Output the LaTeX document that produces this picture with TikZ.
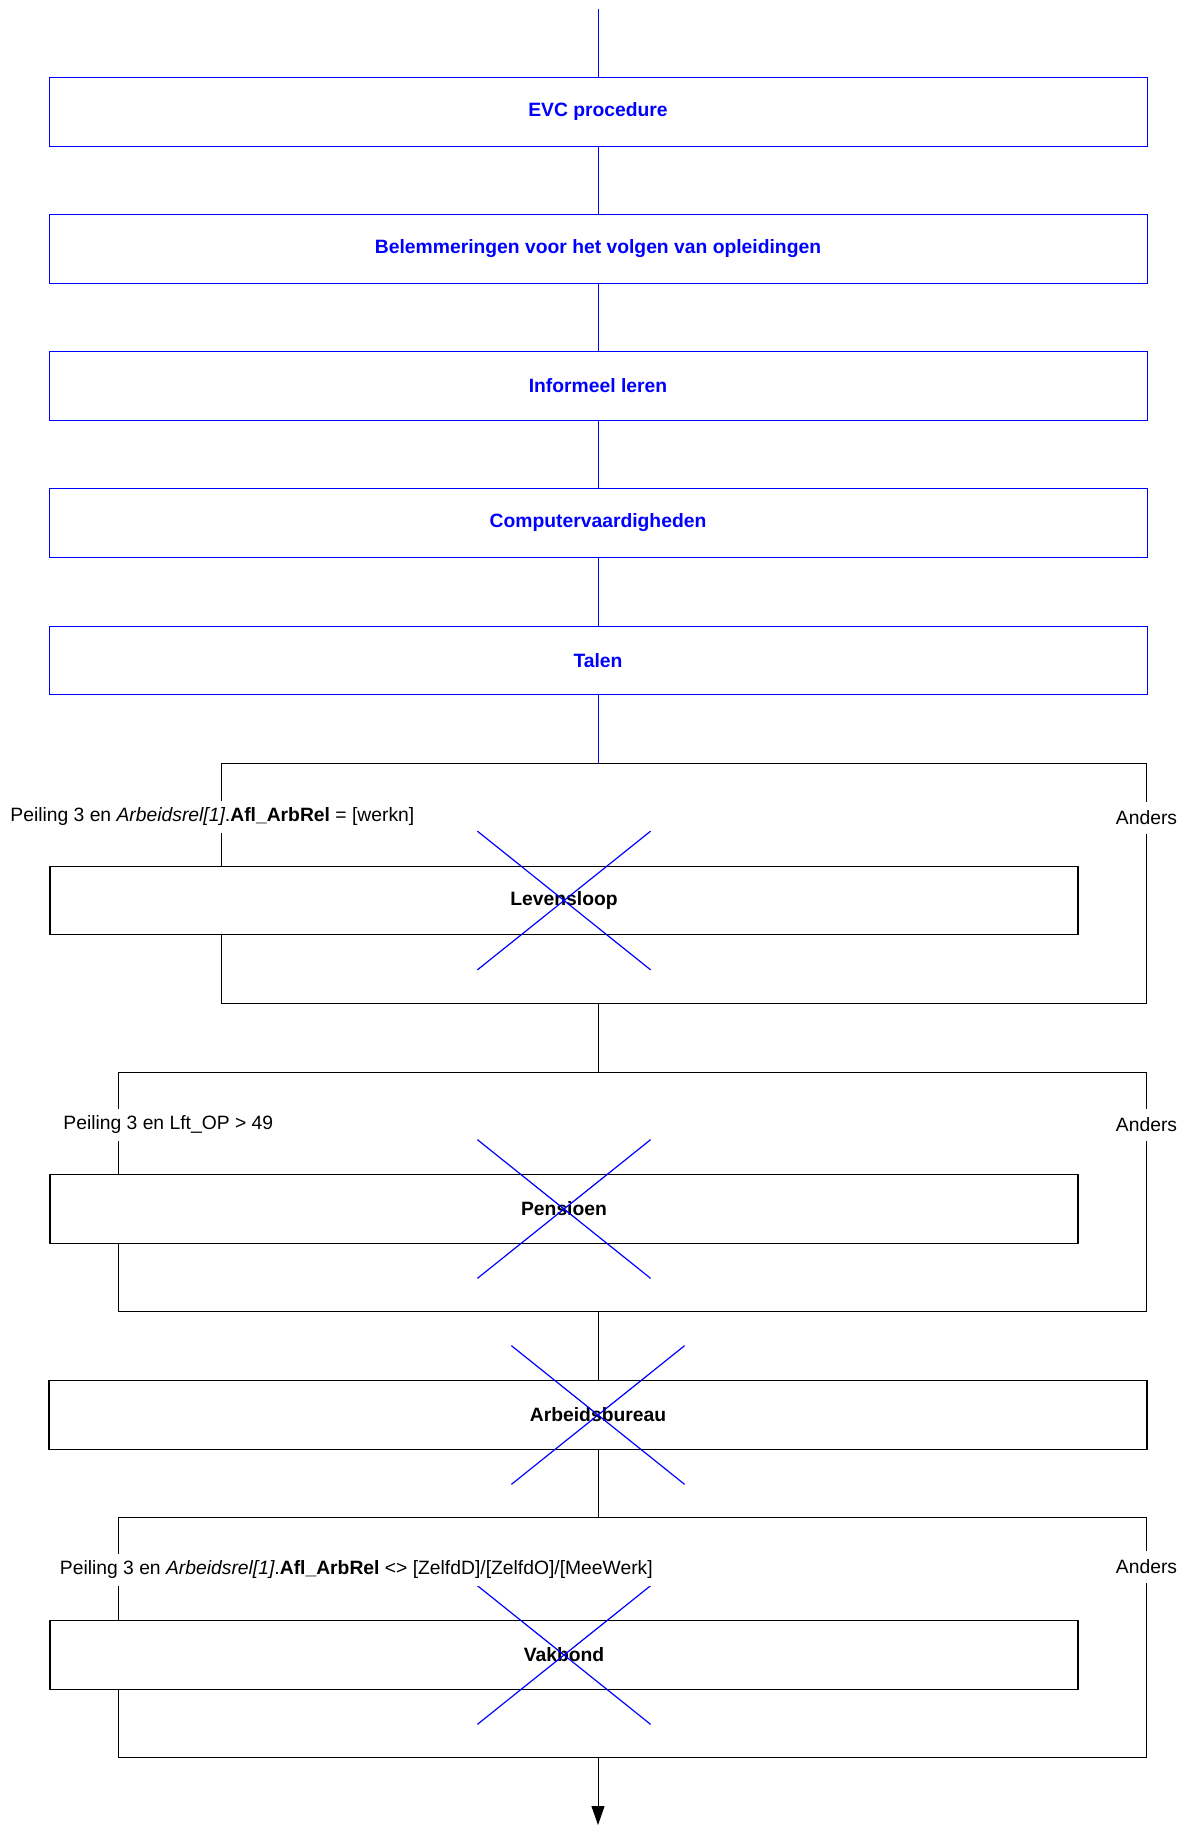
\documentclass[tikz,border=0pt]{standalone}
\usepackage{fontspec}
\setmainfont{Liberation Sans}
\usepackage{tikz}
\usetikzlibrary{shapes.misc,arrows.meta}

\begin{document}
\begin{tikzpicture}[x=0.5pt,y=0.5pt,yscale=-1,xscale=1,
  every node/.style={font=\fontsize{9.65}{11.6}\selectfont},
  bluebox/.style={draw={rgb,255:red,0;green,0;blue,255},line width=0.5pt,fill=white,
    minimum width=549pt,minimum height=34.25pt,inner sep=0pt,
    text={rgb,255:red,0;green,0;blue,255},font=\fontsize{9.65}{11.6}\selectfont\bfseries},
  blackbox/.style={draw=black,line width=0.7pt,fill=white,minimum height=34.25pt,inner sep=0pt,
    font=\fontsize{9.65}{11.6}\selectfont\bfseries},
  grpframe/.style={draw=black,line width=0.5pt,inner sep=0pt},
  strike/.style={cross out,draw={rgb,255:red,0;green,0;blue,255},line width=0.6pt,
    minimum width=86pt,minimum height=68.75pt,inner sep=0pt},
  condlabel/.style={fill=white,inner xsep=1pt,inner ysep=3.5pt,anchor=west},
  elselabel/.style={fill=white,inner xsep=1pt,inner ysep=4.5pt},
  blueline/.style={draw={rgb,255:red,0;green,0;blue,255},line width=0.5pt},
  blackline/.style={draw=black,line width=0.5pt}]
\useasboundingbox (0,0) rectangle (1188,1825);

%Shape: Rectangle [blue blocks]
\node[bluebox] (evc) at (598,112) {EVC procedure};
\node[bluebox] (belem) at (598,249) {Belemmeringen voor het volgen van opleidingen};
\node[bluebox] (informeel) at (598,386) {Informeel leren};
\node[bluebox] (computer) at (598,523) {Computervaardigheden};
\node[bluebox] (talen) at (598,660.5) {Talen};

%Shape: Rectangle [condition frames]
\node[grpframe,minimum width=462.25pt,minimum height=120pt] (grpA) at (683.75,883) {};
\node[grpframe,minimum width=514pt,minimum height=119.5pt] (grpB) at (632,1191.5) {};
\node[grpframe,minimum width=514pt,minimum height=120pt] (grpC) at (632,1637) {};

%Shape: Rectangle [black blocks]
\node[blackbox,minimum width=514pt] (leven) at (564,900.5) {Levensloop};
\node[blackbox,minimum width=514pt] (pensioen) at (564,1209) {Pensioen};
\node[blackbox,minimum width=549pt] (arb) at (598,1415) {Arbeidsbureau};
\node[blackbox,minimum width=514pt] (vakbond) at (564,1655) {Vakbond};

%Straight Lines
\coordinate (start) at (598,9);
\coordinate (finish) at (598,1825);
\draw[blueline] (start) -- (evc);
\draw[blueline] (evc) -- (belem);
\draw[blueline] (belem) -- (informeel);
\draw[blueline] (informeel) -- (computer);
\draw[blueline] (computer) -- (talen);
\draw[blueline] (talen.south) -- (talen.south |- grpA.north);
\draw[blackline] (arb |- grpA.south) -- (arb |- grpB.north);
\draw[blackline] (arb |- grpB.south) -- (arb.north);
\draw[blackline] (arb.south) -- (arb |- grpC.north);
\draw[blackline,-{Triangle[width=6.5pt,length=9.5pt]}] (arb |- grpC.south) -- (finish);

%Crosses
\node[strike] (levenX) at (leven) {};
\node[strike] (pensioenX) at (pensioen) {};
\node[strike] (arbX) at (arb) {};
\node[strike] (vakbondX) at (vakbond) {};

% Text Node
\node[condlabel] (condA) at (8,817) {Peiling 3 en \textit{Arbeidsrel[1]}.\textbf{Afl\_ArbRel} = [werkn]};
% Text Node
\node[elselabel] (elseA) at (1146.5,818) {Anders};
% Text Node
\node[condlabel] (condB) at (61,1124.5) {Peiling 3 en Lft\_OP > 49};
% Text Node
\node[elselabel] (elseB) at (1146.5,1125) {Anders};
% Text Node
\node[condlabel] (condC) at (57.5,1569.5) {Peiling 3 en \textit{Arbeidsrel[1]}.\textbf{Afl\_ArbRel} <> [ZelfdD]/[ZelfdO]/[MeeWerk]};
% Text Node
\node[elselabel] (elseC) at (1146.5,1567) {Anders};

\end{tikzpicture}
\end{document}
